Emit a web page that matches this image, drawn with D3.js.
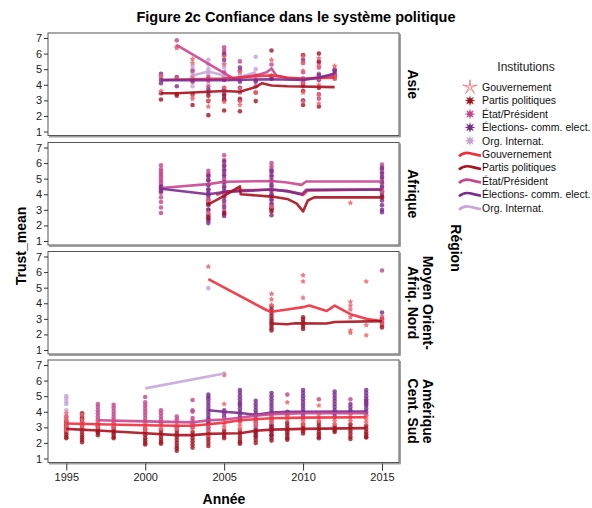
<!DOCTYPE html>
<html><head><meta charset="utf-8">
<script src="https://cdn.jsdelivr.net/npm/d3@7"></script>
<style>
body{margin:0;background:#fff;}
svg{display:block;font-family:"Liberation Sans",Arial,sans-serif;}
</style></head>
<body><svg id="c" width="592" height="508"></svg>
<script>
// ---------- data ----------
const regions = ["Asie", "Afrique", "Moyen Orient-|Afriq. Nord", "Amérique|Cent. Sud"];
const institutions = ["Gouvernement", "Partis politiques", "État/Président", "Élections- comm. elect.", "Org. Internat."];
const yearTicks = [1995, 2000, 2005, 2010, 2015];
const valueTicks = [1, 2, 3, 4, 5, 6, 7];
const pointColors = ["#f2636b", "#a3141f", "#c4448c", "#7a2c8f", "#c4a2d8"];
const lineColors = ["#ef2f3c", "#a8121e", "#c8468f", "#7b2c90", "#c8a6da"];

// points: [institution index, year, [values]]
const asiePoints = [
  [0,2001,[4.55,3.6]],[0,2002,[6.45,6.35,4.4]],[0,2003,[5.65,5.4,4.5,3.25,3.1]],[0,2004,[4.2,3.0,2.6]],
  [0,2005,[5.8,5.3,4.5,3.8,2.9]],[0,2006,[4.8,3.8,2.95,2.7]],[0,2007,[4.6,3.5]],[0,2008,[5.6,4.6]],
  [0,2010,[5.8,5.4,4.9,4.1,3.5,2.9]],[0,2011,[5.7,5.2,4.4,4.0,3.3,2.8]],[0,2012,[5.2,4.6,4.4]],
  [1,2001,[3.45,3.05]],[1,2002,[3.4,3.3]],[1,2003,[3.4,2.7]],[1,2004,[3.3,2.95,2.05]],[1,2005,[3.3,3.0,2.35]],
  [1,2006,[3.1,2.3]],[1,2007,[3.5,2.95]],[1,2008,[6.2,4.4]],[1,2010,[5.9,4.0,3.6,2.7]],[1,2011,[6.0,5.5,3.8,2.6]],[1,2012,[4.6,4.4]],
  [2,2001,[4.5]],[2,2002,[6.85]],[2,2003,[4.9,4.2]],[2,2004,[4.5,3.9]],[2,2005,[6.4,6.2,5.9,4.8,3.8]],
  [2,2006,[5.5,4.9,3.5]],[2,2007,[4.3,3.9]],[2,2008,[5.3]],[2,2010,[5.4,4.8,4.2,3.9]],[2,2011,[5.4,5.1,4.7,3.4,3.1]],[2,2012,[5.0,4.9]],
  [3,2001,[4.7,4.3,4.1]],[3,2002,[4.5,3.9]],[3,2003,[4.3]],[3,2004,[3.7,3.5]],[3,2005,[6.0,5.6,4.3,3.7,3.4,3.1]],
  [3,2006,[5.1,4.2,3.8,3.0]],[3,2007,[4.2]],[3,2008,[4.4]],[3,2010,[5.6,4.4,3.0]],[3,2011,[4.6,4.3]],[3,2012,[4.9,4.7,4.6]],
  [4,2003,[5.2,5.0,4.8,4.6,4.4,4.2,3.9]],[4,2004,[5.6,5.3,5.0,4.7,4.4]],[4,2005,[5.4,5.1,4.4]],[4,2006,[4.9,4.6,4.3]],[4,2007,[5.8,5.0,4.6]]
];
const afriquePoints = [
  [2,2001,[5.85,5.6,5.45,5.3,5.15,5.0,4.85,4.7,4.55,4.35,4.1,3.8,3.5,3.15,2.8]],[3,2001,[4.5,4.35,4.2]],
  [2,2004,[5.5,5.3,5.1,4.9,4.6,4.3,4.0,3.7,3.4,3.0,2.6,2.3]],[3,2004,[5.2,4.9,4.6,4.3,4.1,3.9,3.6,3.3,3.0,2.7,2.4,2.15]],
  [1,2004,[3.4,2.5]],[0,2004,[3.6,2.8]],
  [2,2005,[6.5,6.2,5.9,5.6,5.3,5.0,4.7,4.4,4.1,3.8,3.4,3.0,2.7]],[3,2005,[6.1,5.8,5.5,5.2,4.8,4.5,4.2,3.9,3.6,3.2,2.8,2.6]],
  [1,2005,[2.8]],[0,2005,[4.0]],
  [2,2008,[6.0,5.8,5.6,5.4,5.1,4.8,4.5,4.2,3.9,3.6,3.3,3.0]],[3,2008,[5.5,5.2,4.9,4.6,4.3,4.0,3.7,3.4,3.1,2.65]],
  [1,2008,[3.1,2.9]],[0,2008,[3.2]],[0,2013,[3.45]],
  [2,2015,[5.9,5.6,5.3,5.0,4.7,4.4,4.1,3.8]],[3,2015,[5.7,5.4,5.1,4.8,4.5,4.2,3.9,3.6,3.3,3.0,2.85]],[0,2015,[4.2]],[1,2015,[3.8]]
];
const moyenOrientPoints = [
  [0,2004,[6.35]],[4,2004,[4.97]],
  [0,2008,[4.6,4.25,3.9]],[1,2008,[3.8,3.6,3.4,3.2,3.0,2.85,2.7,2.55,2.4,2.25]],
  [0,2010,[5.8,5.4,4.35]],[1,2010,[3.1,2.95,2.8,2.65,2.5,2.35]],
  [0,2013,[4.1,3.85,3.6,3.1,2.25,2.1]],[0,2014,[5.4,2.6,1.95]],
  [2,2015,[6.1,3.05]],[3,2015,[3.4]],[0,2015,[3.15,2.9,2.7]],[1,2015,[3.0,2.8,2.6,2.45]]
];
const ameriquePoints = [
  [4,1995,[5.0,4.85,4.65,4.5,4.1]],[2,1995,[3.7,3.5,3.3,3.1]],[0,1995,[3.9,3.6,3.4,3.2,3.0,2.8]],[1,1995,[3.35,3.15,3.0,2.85,2.7,2.55,2.4,2.3]],
  [2,1996,[3.6,3.4]],[0,1996,[3.8,3.5,3.3,3.1,2.9]],[1,1996,[3.9,3.7,3.5,3.3,3.1,2.9,2.7,2.5,2.35,2.2,2.05]],
  [2,1997,[4.5,4.3,4.1,3.9,3.7,3.5,3.3,3.1,2.9,2.7]],[0,1997,[3.4,3.2,3.0]],[1,1997,[3.1,2.95,2.8,2.65,2.5]],
  [2,1998,[4.45,4.25,4.05,3.85,3.65,3.45,3.25]],[0,1998,[3.4,3.2,3.0]],[1,1998,[3.0,2.85,2.7,2.55,2.4,2.3]],
  [2,2000,[4.95,4.6,4.4,4.2,4.0,3.8,3.6,3.4]],[0,2000,[3.4,3.2,3.0,2.8]],[1,2000,[2.9,2.7,2.5,2.3,2.15,2.0,1.9]],
  [2,2001,[4.1,3.9,3.7,3.5,3.3]],[0,2001,[3.3,3.1,2.9]],[1,2001,[2.8,2.6,2.4,2.2,2.05,1.95]],
  [2,2002,[3.7,3.5]],[0,2002,[3.3,3.1,2.9]],[1,2002,[3.0,2.8,2.6,2.4,2.2,2.0,1.8,1.65,1.5]],
  [2,2003,[4.75,4.1,4.0,3.6,3.4,3.2,3.0]],[0,2003,[3.2,2.9]],[1,2003,[2.7,2.5,2.3,2.1,1.9,1.7]],
  [3,2004,[5.1,4.95,4.8,4.6,4.4,4.2,4.0,3.8,3.6,3.4,3.2,3.0,2.8]],[2,2004,[3.5,3.3]],[0,2004,[3.1,2.8,2.5]],[1,2004,[2.6,2.4,2.2,2.0,1.8]],
  [4,2005,[6.45]],[0,2005,[6.35,4.5,3.5,3.2,3.0]],[3,2005,[4.1,3.9,3.7]],[1,2005,[2.8,2.6,2.45,2.3]],
  [3,2006,[5.4,5.2,5.0,4.8,4.6,4.4,4.2,4.0,3.8,3.6,3.4]],[2,2006,[4.5,3.6]],[0,2006,[3.3,3.1,2.9]],[1,2006,[2.8,2.6,2.4,2.2,2.05,1.95]],
  [3,2007,[4.7,4.5,4.3,4.1,3.9,3.7,3.5,3.3,3.1,2.9,2.7,2.45]],[0,2007,[3.5,3.3,3.1]],[1,2007,[2.8,2.6,2.4,2.2,2.0]],
  [3,2008,[5.2,5.0,4.8,4.6,4.4,4.2,4.0,3.8,3.6,3.4,3.2,3.0,2.8,2.5]],[0,2008,[3.7,3.5,3.3]],[1,2008,[3.1,2.9,2.7,2.5,2.3,2.15]],
  [2,2009,[5.1]],[0,2009,[4.6,3.9,3.7,3.5]],[3,2009,[4.0,3.8]],[1,2009,[3.3,3.1,2.9,2.75,2.6,2.45,2.3,2.2]],
  [3,2010,[5.4,5.2,5.0,4.8,4.6,4.4,4.2,4.0,3.8,3.6]],[0,2010,[3.6,3.4,3.2]],[1,2010,[3.2,3.05,2.9,2.75,2.6]],
  [2,2011,[4.8]],[0,2011,[4.4,3.8,3.6,3.4]],[1,2011,[3.3,3.1,2.9,2.7,2.55,2.4,2.3]],
  [3,2012,[5.3,5.1,4.9,4.7,4.5,4.3,4.1,3.9,3.7]],[0,2012,[3.6,3.4,3.2]],[1,2012,[3.1,2.95,2.8,2.7]],
  [2,2013,[4.8]],[3,2013,[4.5,4.3,4.1]],[0,2013,[3.8,3.6,3.4]],[1,2013,[3.2,3.0,2.8,2.6,2.4,2.25]],
  [3,2014,[5.4,5.2,5.0,4.8,4.6,4.4,4.2,4.0]],[2,2014,[4.7,4.5,3.8]],[0,2014,[3.7,3.5,3.3]],[1,2014,[3.1,2.9,2.7,2.55,2.4,2.35]]
];

// fit lines: [institution index, [[year, value], ...]]
const asieLines = [
  [4,[[2003,4.6],[2004,4.85],[2005,4.6],[2005.7,4.35],[2006,4.5],[2007,4.8]]],
  [2,[[2002,6.55],[2005.6,4.4],[2007,4.6],[2007.7,4.8],[2008,5.05],[2008.3,4.6],[2009,4.45],[2010,4.35],[2012,4.6]]],
  [0,[[2001,4.3],[2003,4.35],[2005,4.4],[2007,4.55],[2008,4.6],[2009,4.45],[2010,4.4],[2012,4.45]]],
  [1,[[2001,3.45],[2002,3.45],[2003,3.5],[2004,3.55],[2005,3.6],[2006,3.55],[2007,3.85],[2007.4,4.1],[2008,3.95],[2009,3.9],[2012,3.85]]],
  [3,[[2001,4.3],[2005,4.3],[2008,4.35],[2010,4.3],[2011,4.45],[2012,4.72]]]
];
const afriqueLines = [
  [2,[[2001,4.4],[2004,4.65],[2005,4.8],[2008,4.85],[2009,4.75],[2009.9,4.6],[2010.2,4.82],[2015,4.82]]],
  [0,[[2004.5,3.95],[2005,4.15],[2006,4.25],[2008,4.3],[2009,4.2],[2009.8,4.05],[2010,3.95],[2010.3,4.25],[2015,4.3]]],
  [3,[[2001,4.35],[2004,4.0],[2005,4.15],[2008,4.3],[2009,4.2],[2009.9,3.98],[2010.2,4.28],[2015,4.3]]],
  [1,[[2004,3.35],[2005,3.9],[2006,4.5],[2006.05,4.0],[2008,3.85],[2009,3.7],[2009.6,3.4],[2010,2.9],[2010.3,3.6],[2010.7,3.8],[2015,3.8]]]
];
const moyenOrientLines = [
  [0,[[2004,5.55],[2007.7,3.55],[2008,3.45],[2009,3.6],[2010,3.75],[2010.4,3.85],[2011.5,3.5],[2012,3.85],[2013,3.3],[2014,3.0],[2015,2.85]]],
  [1,[[2008,2.7],[2009,2.65],[2009.5,2.72],[2011.5,2.7],[2012,2.8],[2015,2.85]]]
];
const ameriqueLines = [
  [4,[[2000,5.5],[2005,6.45]]],
  [3,[[2004,4.1],[2005,4.0],[2006,3.92],[2007,3.8],[2008,3.95],[2009,4.0],[2014,4.02]]],
  [2,[[1997,3.45],[2000,3.38],[2003,3.32],[2004,3.45],[2005,3.5],[2006,3.62],[2007,3.75],[2008,3.85],[2010,3.9],[2014,3.9]]],
  [0,[[1995,3.25],[1997,3.2],[2000,3.13],[2002,3.1],[2003,3.1],[2004,3.2],[2005,3.3],[2006,3.45],[2007,3.52],[2008,3.58],[2010,3.62],[2014,3.65]]],
  [1,[[1995,2.9],[1997,2.8],[2000,2.62],[2002,2.5],[2003,2.5],[2004,2.58],[2005,2.6],[2006,2.62],[2007,2.78],[2008,2.85],[2010,2.9],[2014,2.95]]]
];
const regionPoints = [asiePoints, afriquePoints, moyenOrientPoints, ameriquePoints];
const regionLines = [asieLines, afriqueLines, moyenOrientLines, ameriqueLines];

// ---------- layout ----------
const svg = d3.select("#c");
const panelLeft = 48, panelRight = 399;
const panelTops = [33, 142.5, 251.5, 360];
const panelH = 102.5;
const x = d3.scaleLinear().domain([1995, 2015]).range([66.3, 382]);

svg.append("text").attr("x", 296).attr("y", 22).attr("text-anchor", "middle")
  .attr("font-size", 14.5).attr("font-weight", "bold").text("Figure 2c Confiance dans le système politique");

const starPath = (r1, r2, n) => {
  let p = "";
  for (let i = 0; i < 2 * n; i++) {
    const a = Math.PI * i / n - Math.PI / 2, r = i % 2 ? r2 : r1;
    p += (i ? "L" : "M") + (r * Math.cos(a)).toFixed(2) + "," + (r * Math.sin(a)).toFixed(2);
  }
  return p + "Z";
};
const smallStar = starPath(3.0, 1.6, 5);

regions.forEach((reg, ri) => {
  const top = panelTops[ri];
  const y = d3.scaleLinear().domain([1, 7]).range([top + 98.5, top + 5]);
  const g = svg.append("g");
  g.append("line").attr("x1", panelLeft + 1).attr("x2", panelRight + 1.5).attr("y1", top + panelH + 1.2).attr("y2", top + panelH + 1.2)
    .attr("stroke", "#a0a0a0").attr("stroke-width", 1.6);
  g.append("line").attr("x1", panelRight + 1.2).attr("x2", panelRight + 1.2).attr("y1", top + 1).attr("y2", top + panelH + 1.5)
    .attr("stroke", "#a0a0a0").attr("stroke-width", 1.6);
  g.append("rect").attr("x", panelLeft).attr("y", top).attr("width", panelRight - panelLeft).attr("height", panelH)
    .attr("fill", "#fff").attr("stroke", "#555").attr("stroke-width", 1);

  const ya = g.append("g").attr("transform", `translate(${panelLeft},0)`)
    .call(d3.axisLeft(y).tickValues(valueTicks).tickSize(4).tickPadding(2).tickFormat(d3.format("d")));
  ya.select(".domain").remove();
  ya.selectAll("line").attr("stroke", "#333");
  ya.selectAll("text").attr("font-size", 11).attr("font-family", "Liberation Sans, Arial, sans-serif").attr("fill", "#222");

  const pts = [];
  regionPoints[ri].forEach(([k, yr, vals]) => vals.forEach(v => pts.push({ k, yr, v })));
  const order = [4, 2, 3, 1, 0];
  pts.sort((a, b) => order.indexOf(a.k) - order.indexOf(b.k));
  pts.forEach(p => {
    if (p.k === 0) {
      g.append("path").attr("d", smallStar).attr("transform", `translate(${x(p.yr)},${y(p.v)})`)
        .attr("fill", pointColors[0]).attr("fill-opacity", 0.85);
    } else {
      g.append("circle").attr("cx", x(p.yr)).attr("cy", y(p.v)).attr("r", 2.3)
        .attr("fill", pointColors[p.k]).attr("fill-opacity", 0.8);
    }
  });

  const line = d3.line().x(d => x(d[0])).y(d => y(d[1]));
  regionLines[ri].forEach(([k, data]) => {
    g.append("path").attr("d", line(data)).attr("fill", "none").attr("stroke", lineColors[k])
      .attr("stroke-width", 2.6).attr("stroke-opacity", 0.9).attr("stroke-linejoin", "round");
  });

  const lines = reg.split("|");
  const cy = top + panelH / 2;
  if (lines.length === 1) {
    svg.append("text").attr("transform", `translate(407.5,${cy}) rotate(90)`).attr("text-anchor", "middle")
      .attr("font-size", 14).attr("font-weight", "bold").text(lines[0]);
  } else {
    svg.append("text").attr("transform", `translate(423,${cy}) rotate(90)`).attr("text-anchor", "middle")
      .attr("font-size", 14).attr("font-weight", "bold").text(lines[0]);
    svg.append("text").attr("transform", `translate(408,${cy}) rotate(90)`).attr("text-anchor", "middle")
      .attr("font-size", 14).attr("font-weight", "bold").text(lines[1]);
  }
});

const xa = svg.append("g").attr("transform", `translate(0,${panelTops[3] + panelH + 1})`)
  .call(d3.axisBottom(x).tickValues(yearTicks).tickSize(7).tickPadding(3).tickFormat(d3.format("d")));
xa.select(".domain").remove();
xa.selectAll("line").attr("stroke", "#333");
xa.selectAll("text").attr("font-size", 11).attr("font-family", "Liberation Sans, Arial, sans-serif").attr("fill", "#222");

svg.append("text").attr("x", 224).attr("y", 504).attr("text-anchor", "middle")
  .attr("font-size", 14).attr("font-weight", "bold").text("Année");
svg.append("text").attr("transform", "translate(26,246) rotate(-90)").attr("text-anchor", "middle")
  .attr("font-size", 14).attr("font-weight", "bold").text("Trust_mean");
svg.append("text").attr("transform", "translate(451,248) rotate(90)").attr("text-anchor", "middle")
  .attr("font-size", 14).attr("font-weight", "bold").text("Région");

svg.append("text").attr("x", 526).attr("y", 71).attr("text-anchor", "middle").attr("font-size", 12).attr("fill", "#222").text("Institutions");
const bigStar = starPath(5.5, 2.4, 8);
institutions.forEach((name, i) => {
  const ly = 87.3 + i * 13.38;
  if (i === 0) {
    svg.append("path").attr("d", starPath(7.5, 1.2, 5)).attr("transform", `translate(470,${ly})`)
      .attr("fill", "none").attr("stroke", "#f47a80").attr("stroke-width", 0.9);
  } else {
    svg.append("path").attr("d", bigStar).attr("transform", `translate(470,${ly})`).attr("fill", pointColors[i]);
  }
  svg.append("text").attr("x", 482).attr("y", ly + 3.8).attr("font-size", 10.5).attr("fill", "#111").text(name);
});
institutions.forEach((name, i) => {
  const ly = 87.3 + (i + 5) * 13.38;
  svg.append("path").attr("d", `M459,${ly + 2} Q464,${ly - 2.5} 470,${ly - 1} T481,${ly + 1.5}`)
    .attr("fill", "none").attr("stroke", lineColors[i]).attr("stroke-width", 2.6);
  svg.append("text").attr("x", 482).attr("y", ly + 3.8).attr("font-size", 10.5).attr("fill", "#111").text(name);
});
</script></body></html>
